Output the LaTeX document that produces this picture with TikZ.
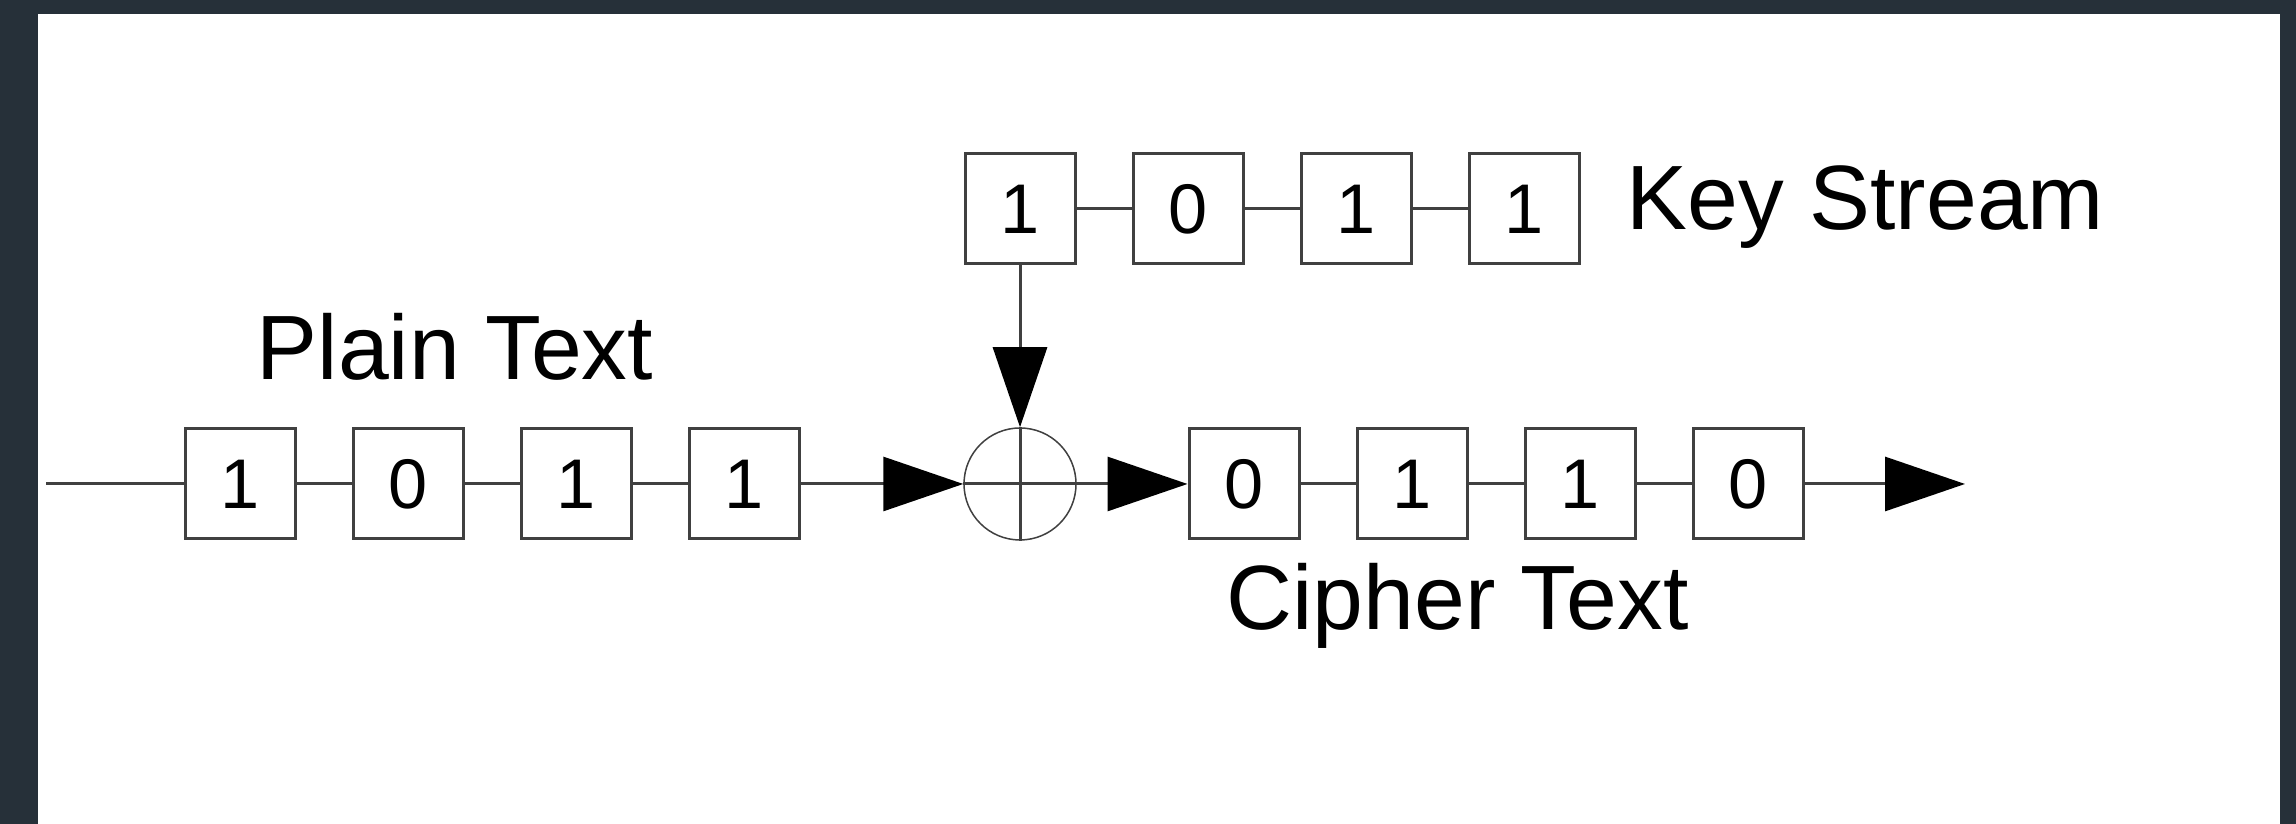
\documentclass[tikz,border=0pt]{standalone}
\usepackage{fontspec}
\setmainfont{Liberation Sans}
\usetikzlibrary{positioning,arrows.meta}

\definecolor{framebg}{HTML}{263039}
\definecolor{linegray}{HTML}{404040}

\begin{document}
\begin{tikzpicture}[
    node distance=0.55cm,
    bitbox/.style={rectangle, draw=linegray, line width=0.03cm, minimum width=1.10cm, minimum height=1.10cm, inner sep=0pt, font=\fontsize{20}{24}\selectfont},
    streamname/.style={inner sep=0pt, anchor=base, font=\fontsize{26}{31}\selectfont},
    link/.style={draw=linegray, line width=0.03cm},
    arrow/.style={link, -{Triangle[length=0.8cm, width=0.54cm, color=black]}},
    xorgate/.style={circle, draw=linegray, line width=0.015cm, minimum size=1.12cm, inner sep=0pt}
]

% Frame
\fill[framebg] (0,0) rectangle (22.96,8.24);
\fill[white] (0.38,0) rectangle (22.80,8.10);

% Plain text bits
\node[bitbox] (p1) at (2.40,3.40) {1};
\node[bitbox, right=of p1] (p2) {0};
\node[bitbox, right=of p2] (p3) {1};
\node[bitbox, right=of p3] (p4) {1};
\node[streamname] (plainname) at (4.55,4.44) {Plain Text};

% XOR
\node[xorgate] (xor) at (10.20,3.40) {};

% Key stream bits
\node[bitbox] (k1) at (10.20,6.15) {1};
\node[bitbox, right=of k1] (k2) {0};
\node[bitbox, right=of k2] (k3) {1};
\node[bitbox, right=of k3] (k4) {1};
\node[streamname, anchor=base west] (keyname) at (16.26,5.94) {Key Stream};

% Cipher text bits
\node[bitbox] (c1) at (12.44,3.40) {0};
\node[bitbox, right=of c1] (c2) {1};
\node[bitbox, right=of c2] (c3) {1};
\node[bitbox, right=of c3] (c4) {0};
\node[streamname] (ciphername) at (14.575,1.94) {Cipher Text};

% Free ends
\coordinate (in) at (0.46,3.40);
\coordinate (out) at (19.65,3.40);

% Plain text links
\draw[link] (in) -- (p1);
\draw[link] (p1) -- (p2);
\draw[link] (p2) -- (p3);
\draw[link] (p3) -- (p4);
\draw[arrow] (p4) -- (xor);

% Key stream links
\draw[link] (k1) -- (k2);
\draw[link] (k2) -- (k3);
\draw[link] (k3) -- (k4);
\draw[arrow] (k1) -- (xor);

% XOR cross
\draw[link] (xor.north) -- (xor.south);
\draw[link] (xor.west) -- (xor.east);

% Cipher text links
\draw[arrow] (xor) -- (c1);
\draw[link] (c1) -- (c2);
\draw[link] (c2) -- (c3);
\draw[link] (c3) -- (c4);
\draw[arrow] (c4) -- (out);

\end{tikzpicture}
\end{document}
